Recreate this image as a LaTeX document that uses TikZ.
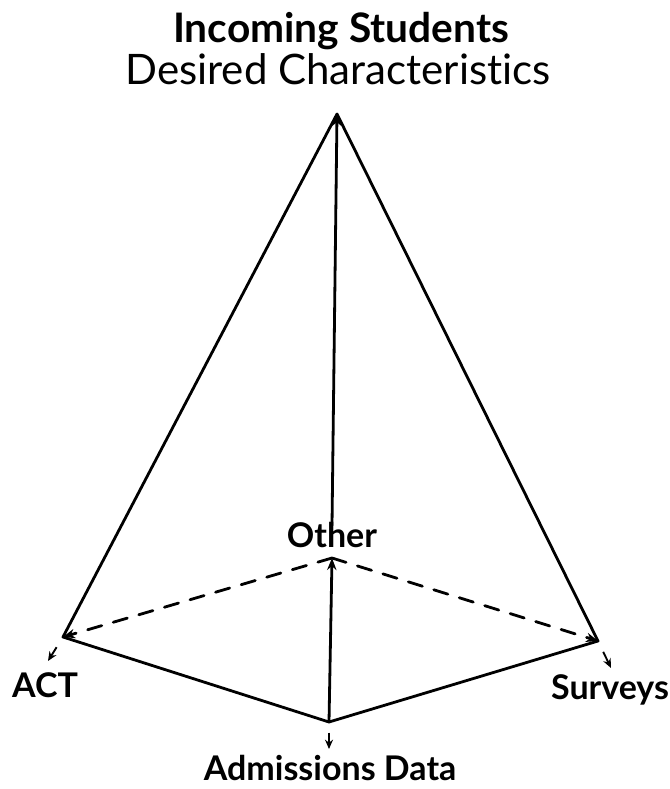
\documentclass[tikz,border=0pt]{standalone}
\usepackage{fontspec}
\setmainfont{Lato}[Ligatures=NoCommon]
\usetikzlibrary{arrows.meta}
\tikzset{
  edge/.style={line width=2.1pt, line cap=round, line join=round},
  hidden/.style={edge, dash pattern=on 11pt off 9pt},
  tip/.style={-{Stealth[length=9pt,width=7pt]}},
  corner/.style={font=\fontsize{25.5}{30}\selectfont\bfseries, inner sep=0pt, anchor=base},
  small/.style={line width=1.4pt, -{Stealth[length=7pt,width=6pt]}}
}
\begin{document}
\begin{tikzpicture}[x=0.75pt,y=-0.75pt]
    \useasboundingbox (0,0) rectangle (670,789);

    % Title
    % ---------------------
    \node[anchor=base] (title) at (341,42) {\fontsize{30.5}{36}\selectfont\bfseries Incoming Students};
    \node[anchor=base] (subtitle) at (338,84) {\fontsize{31.5}{36}\selectfont Desired Characteristics};

    % Corners of the pyramid
    % ---------------------
    \coordinate (apex) at (337,114);
    \coordinate (actc) at (63,637);
    \coordinate (admc) at (329,722);
    \coordinate (survc) at (598,641);
    \coordinate (othc) at (332,558);
    \coordinate (actt) at (48,661);
    \coordinate (admt) at (329,749);
    \coordinate (survt) at (611,668);

    % Labels
    % ---------------------
    \node[corner] (other) at (332,547) {Other};
    \node[corner] (act) at (45,697) {ACT};
    \node[corner] (surv) at (610,699) {Surveys};
    \node[corner] (adm) at (330,780) {Admissions Data};

    % Edges
    % ---------------------
    \draw[edge] (apex) -- (actc) -- (admc) -- (survc) -- cycle;
    \draw[hidden, tip] (othc) -- (actc);
    \draw[hidden, tip] (othc) -- (survc);
    \draw[edge, tip] (admc) -- (othc);
    \draw[edge, tip] ([yshift=-3pt]other.north) -- (apex);

    % Small arrows to the labels
    % ---------------------
    \draw[small, shorten <=9pt] (actc) -- (actt);
    \draw[small, shorten <=8pt] (admc) -- (admt);
    \draw[small, shorten <=9pt] (survc) -- (survt);
\end{tikzpicture}
\end{document}
